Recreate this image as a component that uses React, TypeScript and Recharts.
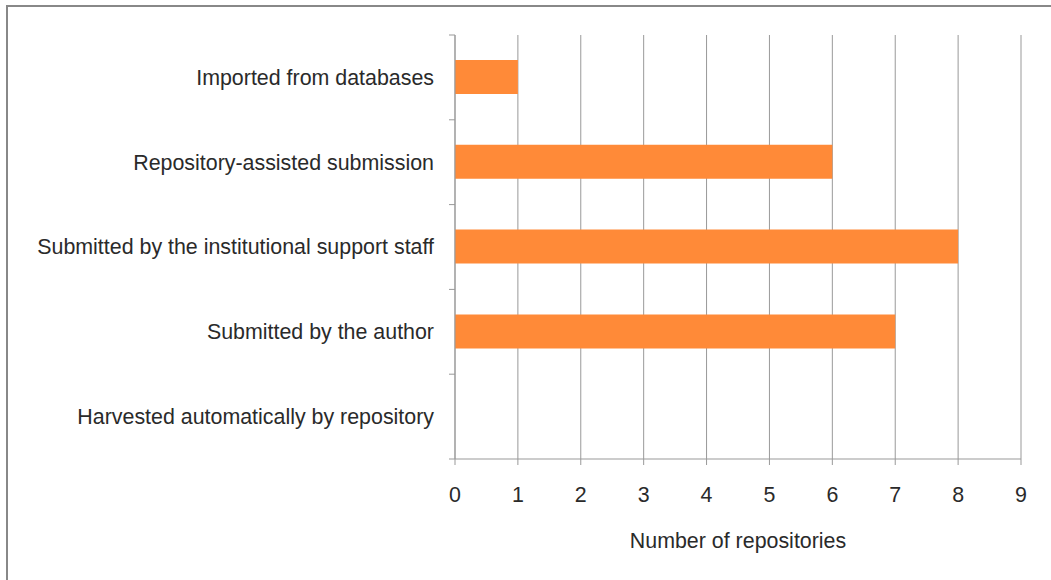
import { BarChart, Bar, XAxis, YAxis, CartesianGrid } from 'recharts';

const categories = [
  'Imported from databases',
  'Repository-assisted submission',
  'Submitted by the institutional support staff',
  'Submitted by the author',
  'Harvested automatically by repository',
];
const repositories = [1, 6, 8, 7, 0];
const xTicks = [0, 1, 2, 3, 4, 5, 6, 7, 8, 9];

const data = categories.map((category, i) => ({ category, value: repositories[i] }));

const WIDTH = 1051;
const HEIGHT = 580;
const MARGIN = { top: 35, right: 30, bottom: 0, left: 0 };
const X_AXIS_HEIGHT = 121;
const TICK_SIZE = 6;
const TICK_MARGIN = 15;
const AXIS_COLOR = '#999';
const TEXT_COLOR = '#2a2a2a';
const FONT_SIZE = 21.4;

// half a category band, so tick marks sit on band boundaries like the original
const halfBand = (HEIGHT - MARGIN.top - MARGIN.bottom - X_AXIS_HEIGHT) / categories.length / 2;

function CategoryTick(props: any) {
  const { x, y, payload, index } = props;
  const axisX = x + TICK_SIZE + TICK_MARGIN;
  return (
    <g>
      <line x1={axisX - TICK_SIZE} x2={axisX} y1={y - halfBand} y2={y - halfBand} stroke={AXIS_COLOR} />
      {index === categories.length - 1 && (
        <line x1={axisX - TICK_SIZE} x2={axisX} y1={y + halfBand} y2={y + halfBand} stroke={AXIS_COLOR} />
      )}
      <text x={x} y={y} dy="0.35em" textAnchor="end" fill={TEXT_COLOR} fontSize={FONT_SIZE}>
        {payload.value}
      </text>
    </g>
  );
}

export default function App() {
  return (
    <div
      style={{
        position: 'relative',
        width: WIDTH,
        height: HEIGHT,
        background: '#fff',
        overflow: 'hidden',
        fontFamily: '"Liberation Sans", Arial, sans-serif',
      }}
    >
      <style>{'body{margin:0}'}</style>
      <div
        style={{
          position: 'absolute',
          left: 6,
          top: 5,
          right: -10,
          bottom: -10,
          borderLeft: '2px solid #888',
          borderTop: '2px solid #888',
        }}
      />
      <BarChart layout="vertical" width={WIDTH} height={HEIGHT} data={data} margin={MARGIN}>
        <CartesianGrid horizontal={false} stroke={AXIS_COLOR} />
        <XAxis
          type="number"
          domain={[0, 9]}
          ticks={xTicks}
          height={X_AXIS_HEIGHT}
          tickSize={TICK_SIZE}
          tickMargin={22}
          stroke={AXIS_COLOR}
          tick={{ fill: TEXT_COLOR, fontSize: FONT_SIZE }}
          label={{ value: 'Number of repositories', position: 'insideBottom', offset: 32, fill: TEXT_COLOR, fontSize: FONT_SIZE }}
        />
        <YAxis
          type="category"
          dataKey="category"
          width={455}
          tickLine={false}
          tickSize={TICK_SIZE}
          tickMargin={TICK_MARGIN}
          stroke={AXIS_COLOR}
          interval={0}
          tick={<CategoryTick />}
        />
        <Bar dataKey="value" fill="#FF8A38" barSize={34} isAnimationActive={false} />
      </BarChart>
    </div>
  );
}
